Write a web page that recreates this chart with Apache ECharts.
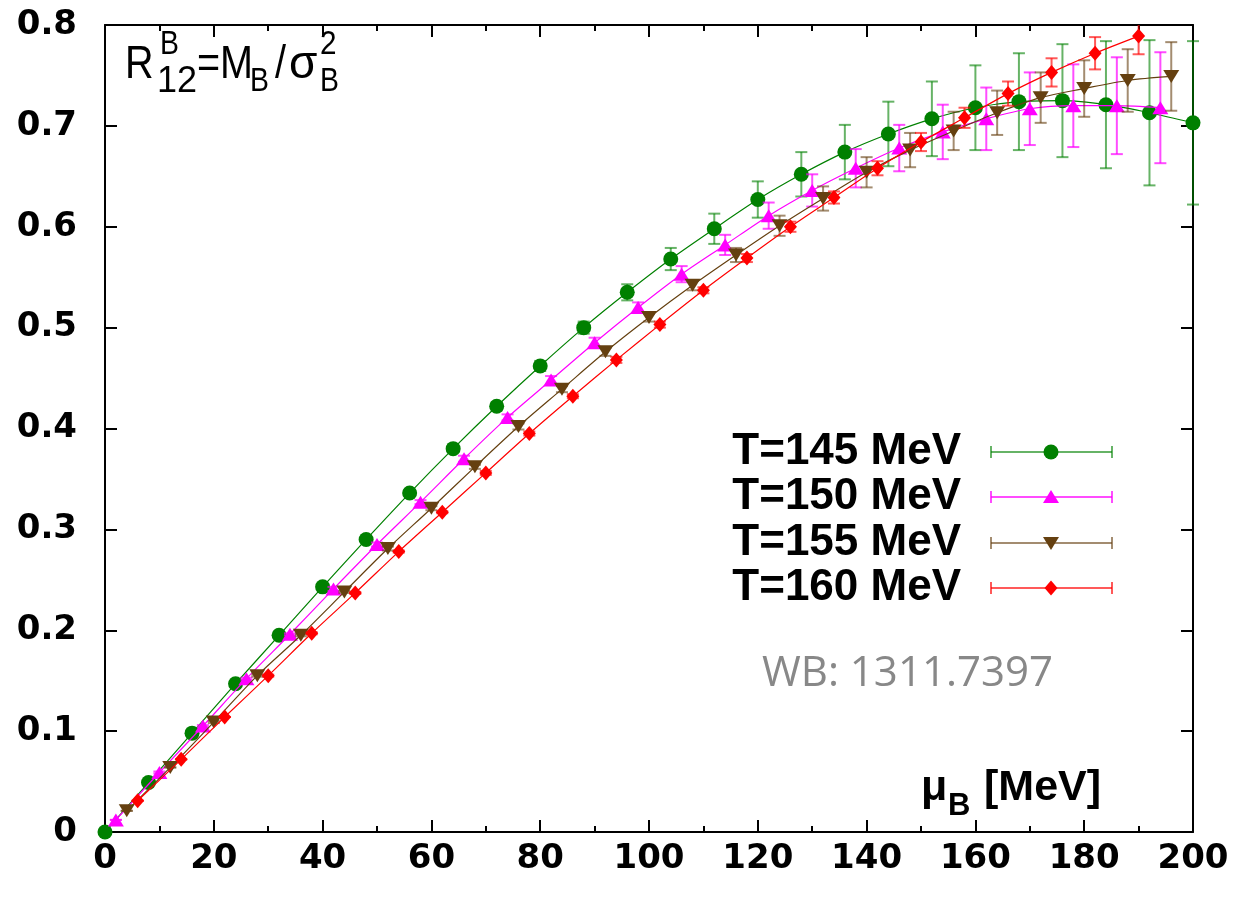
<!DOCTYPE html>
<html>
<head>
<meta charset="utf-8">
<script src="https://cdn.jsdelivr.net/npm/echarts@6/dist/echarts.min.js"></script>
<style>
html,body{margin:0;padding:0;background:#fff;}
#chart{width:1241px;height:899px;}
</style>
</head>
<body>
<div id="chart"></div>
<script>
// ---- data (mu_B in MeV, R12 values, errors) ----
const T145_mu  = [0,8,16,24,32,40,48,56,64,72,80,88,96,104,112,120,128,136,144,152,160,168,176,184,192,200];
const T145_R   = [0,0.049,0.098,0.147,0.195,0.243,0.290,0.336,0.380,0.422,0.462,0.500,0.535,0.568,0.598,0.627,0.652,0.674,0.692,0.707,0.718,0.724,0.725,0.721,0.713,0.703];
const T145_err = [0,0.001,0.001,0.001,0.002,0.002,0.002,0.003,0.003,0.004,0.005,0.006,0.008,0.011,0.015,0.018,0.022,0.027,0.032,0.037,0.042,0.048,0.056,0.063,0.072,0.081];

const T150_mu  = [2,10,18,26,34,42,50,58,66,74,82,90,98,106,114,122,130,138,146,154,162,170,178,186,194];
const T150_R   = [0.012,0.059,0.105,0.152,0.196,0.241,0.285,0.327,0.370,0.411,0.448,0.485,0.520,0.553,0.582,0.611,0.636,0.658,0.678,0.694,0.707,0.717,0.720,0.720,0.718];
const T150_err = [0,0.001,0.001,0.001,0.001,0.002,0.002,0.002,0.003,0.003,0.004,0.005,0.005,0.008,0.010,0.013,0.016,0.019,0.023,0.027,0.031,0.036,0.041,0.048,0.055];

const T155_mu  = [4,12,20,28,36,44,52,60,68,76,84,92,100,108,116,124,132,140,148,156,164,172,180,188,196];
const T155_R   = [0.021,0.064,0.109,0.155,0.195,0.238,0.281,0.321,0.362,0.402,0.439,0.476,0.510,0.542,0.572,0.601,0.628,0.654,0.676,0.695,0.713,0.728,0.737,0.745,0.749];
const T155_err = [0,0,0.001,0.001,0.001,0.001,0.002,0.002,0.002,0.003,0.003,0.004,0.004,0.005,0.007,0.010,0.012,0.015,0.017,0.019,0.022,0.025,0.028,0.031,0.034];

const T160_mu  = [6,14,22,30,38,46,54,62,70,78,86,94,102,110,118,126,134,142,150,158,166,174,182,190];
const T160_R   = [0.031,0.072,0.114,0.155,0.197,0.237,0.278,0.317,0.356,0.395,0.432,0.468,0.503,0.537,0.569,0.600,0.629,0.658,0.684,0.708,0.732,0.753,0.772,0.789];
const T160_err = [0,0,0,0.001,0.001,0.001,0.001,0.001,0.002,0.002,0.002,0.003,0.003,0.003,0.004,0.005,0.006,0.007,0.009,0.010,0.012,0.014,0.016,0.018];

const seriesNames = ['T=145 MeV','T=150 MeV','T=155 MeV','T=160 MeV'];
const xTicks = [0,20,40,60,80,100,120,140,160,180,200];
const yTicks = [0,0.1,0.2,0.3,0.4,0.5,0.6,0.7,0.8];

// ---- styles ----
const colors   = ['#008000','#ff00ff','#654010','#ff0000'];
const errCols  = ['rgba(0,128,0,0.6)','rgba(255,0,255,0.7)','rgba(101,64,16,0.6)','rgba(255,0,0,0.65)'];
const triUp   = 'path://M0,10 L5.8,0 L11.6,10 Z';
const triDown = 'path://M0,0 L11.6,0 L5.8,10 Z';
const symbols = ['circle', triUp, triDown, 'diamond'];
const symSizes = [15, [16,13], [16,13], [13,15]];

const sets = [
  [T145_mu,T145_R,T145_err],
  [T150_mu,T150_R,T150_err],
  [T155_mu,T155_R,T155_err],
  [T160_mu,T160_R,T160_err]
];

function errRender(ci){
  return function(params, api){
    const x = api.value(0), y = api.value(1), e = api.value(2);
    const cs = params.coordSys;
    const pt = api.coord([x, y + e]);
    const pb = api.coord([x, y - e]);
    const yTop = Math.max(pt[1], cs.y);
    const yBot = Math.min(pb[1], cs.y + cs.height);
    const hw = 6;
    const st = {stroke: errCols[ci], lineWidth: 2};
    const children = [
      {type:'line', shape:{x1:pt[0], y1:yTop, x2:pt[0], y2:yBot}, style:st}
    ];
    if (pt[1] >= cs.y) children.push({type:'line', shape:{x1:pt[0]-hw, y1:pt[1], x2:pt[0]+hw, y2:pt[1]}, style:st});
    if (pb[1] <= cs.y + cs.height) children.push({type:'line', shape:{x1:pb[0]-hw, y1:pb[1], x2:pb[0]+hw, y2:pb[1]}, style:st});
    return {type:'group', children};
  };
}

const series = [];
sets.forEach((s, i) => {
  const [mu, R, err] = s;
  series.push({
    type:'custom', name: seriesNames[i] + ' err', renderItem: errRender(i),
    data: mu.map((m, k) => [m, R[k], err[k]]), z: 2 + i*3, silent: true,
    encode: {x:0, y:1}
  });
  series.push({
    type:'line', name: seriesNames[i],
    data: mu.map((m, k) => [m, R[k]]),
    symbol: symbols[i], symbolSize: symSizes[i], showSymbol: true,
    smooth: 0.3,
    lineStyle: {color: colors[i], width: 1.2},
    itemStyle: {color: colors[i], borderWidth: 0},
    z: 3 + i*3, animation: false, clip: true
  });
});

// ---- axis common ----
const axisLineStyle = {show:true, onZero:false, lineStyle:{color:'#000', width:2}};
const tickStyle = {show:true, inside:true, length:12, lineStyle:{color:'#000', width:2}};
const labelFont = {fontFamily:'DejaVu Sans', fontWeight:'bold', fontSize:34, color:'#000'};

// ---- graphics: formula, legend, annotations ----
const F = 'Liberation Sans';
const graphics = [];
function txt(x, y, s, size, opts, sx){
  const el = {type:'text', x:x, y:y, z:100,
    style: Object.assign({text:s, fontFamily:F, fontSize:size, fill:'#000', verticalAlign:'middle', align:'left'}, opts||{})};
  if (sx) { el.scaleX = sx; }
  graphics.push(el);
}
// R^B_12 = M_B / sigma^2_B
txt(125, 65, 'R', 46, null, 0.86);
txt(160, 45, 'B', 33, null, 0.86);
txt(157, 82, '12', 36);
txt(197, 65, '=', 46, null, 0.86);
txt(220, 65, 'M', 46, null, 0.86);
txt(250, 82, 'B', 33, null, 0.86);
txt(275, 65, '/', 46, null, 0.86);
txt(289, 65, 'σ', 46);
txt(320, 45, '2', 33, null, 0.9);
txt(320, 82, 'B', 33, null, 0.86);

// mu_B [MeV]
txt(921, 788, 'μ', 43, {fontWeight:'bold'});
txt(948, 806, 'B', 31, {fontWeight:'bold'});
txt(984, 788, '[MeV]', 43, {fontWeight:'bold'});

// WB text
txt(1053, 674, 'WB: 1311.7397', 42, {fontFamily:'Open Sans', fill:'#888888', align:'right', fontWeight:'normal'});

// legend
const legendY = [452, 497, 543, 588];
const lx1 = 991, lx2 = 1112, lmx = 1051;
legendY.forEach((y, i) => {
  txt(961, y, seriesNames[i], 44, {fontWeight:'bold', align:'right'});
  const st = {stroke: errCols[i], lineWidth: 2};
  graphics.push({type:'line', z:100, shape:{x1:lx1, y1:y, x2:lx2, y2:y}, style:st});
  graphics.push({type:'line', z:100, shape:{x1:lx1, y1:y-6, x2:lx1, y2:y+6}, style:st});
  graphics.push({type:'line', z:100, shape:{x1:lx2, y1:y-6, x2:lx2, y2:y+6}, style:st});
  let shape;
  if (i === 0) shape = {type:'circle', shape:{cx:lmx, cy:y, r:7.5}};
  else if (i === 1) shape = {type:'polygon', shape:{points:[[lmx-8,y+6],[lmx+8,y+6],[lmx,y-7]]}};
  else if (i === 2) shape = {type:'polygon', shape:{points:[[lmx-8,y-6],[lmx+8,y-6],[lmx,y+7]]}};
  else shape = {type:'polygon', shape:{points:[[lmx-6.5,y],[lmx,y-7.5],[lmx+6.5,y],[lmx,y+7.5]]}};
  shape.z = 101;
  shape.style = {fill: colors[i]};
  graphics.push(shape);
});

const chart = echarts.init(document.getElementById('chart'), null, {renderer:'canvas', width:1241, height:899});
chart.setOption({
  animation: false,
  backgroundColor: '#fff',
  grid: {left:105, right:48, top:25, bottom:67, containLabel:false},
  xAxis: [
    {type:'value', min:xTicks[0], max:xTicks[xTicks.length-1], interval:xTicks[1]-xTicks[0], position:'bottom',
     axisLine: axisLineStyle, axisTick: tickStyle,
     minorTick:{show:true, splitNumber:2, length:6, lineStyle:{color:'#000', width:2}},
     axisLabel: Object.assign({margin:10, showMinLabel:true, showMaxLabel:true}, labelFont),
     splitLine:{show:false}, minorSplitLine:{show:false}},
    {type:'value', min:xTicks[0], max:xTicks[xTicks.length-1], interval:xTicks[1]-xTicks[0], position:'top',
     axisLine: axisLineStyle, axisTick: tickStyle,
     minorTick:{show:true, splitNumber:2, length:6, lineStyle:{color:'#000', width:2}},
     axisLabel:{show:false}, splitLine:{show:false}}
  ],
  yAxis: [
    {type:'value', min:yTicks[0], max:yTicks[yTicks.length-1], interval:yTicks[1]-yTicks[0], position:'left',
     axisLine: axisLineStyle, axisTick: tickStyle,
     axisLabel: Object.assign({margin:28, showMinLabel:true, showMaxLabel:true,
       formatter: v => (Math.round(v*10)/10).toString()}, labelFont),
     splitLine:{show:false}},
    {type:'value', min:yTicks[0], max:yTicks[yTicks.length-1], interval:yTicks[1]-yTicks[0], position:'right',
     axisLine: axisLineStyle, axisTick: tickStyle,
     axisLabel:{show:false}, splitLine:{show:false}}
  ],
  series: series,
  graphic: graphics
});
</script>
</body>
</html>
